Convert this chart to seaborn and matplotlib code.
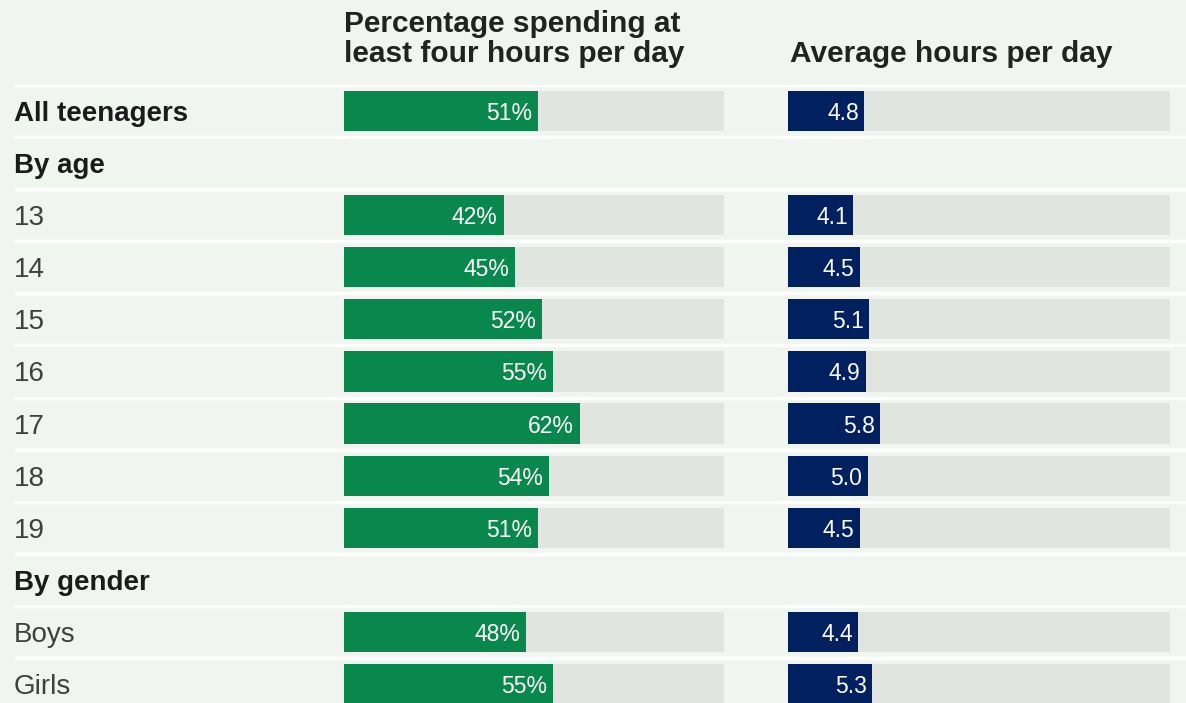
import numpy as np
import pandas as pd
import matplotlib.pyplot as plt
import seaborn as sns

# rows of the table, top to bottom
rows = ["All teenagers", "By age", "13", "14", "15", "16", "17", "18", "19",
        "By gender", "Boys", "Girls"]
bold_rows = ["All teenagers", "By age", "By gender"]

# share spending at least four hours per day (%) and average hours per day
pct_values = [51, np.nan, 42, 45, 52, 55, 62, 54, 51, np.nan, 48, 55]
hour_values = [4.8, np.nan, 4.1, 4.5, 5.1, 4.9, 5.8, 5.0, 4.5, np.nan, 4.4, 5.3]

pct_max = 100
hour_max = 24

header_pct = ["Percentage spending at", "least four hours per day"]
header_hours = "Average hours per day"

bg = "#f0f6ef"
track = "#e0e6df"
green = "#08884c"
navy = "#00205f"

plt.rcParams["font.family"] = ["Liberation Sans", "DejaVu Sans"]

df = pd.DataFrame({"row": rows, "pct": pct_values, "hours": hour_values})
df["pct_track"] = np.where(df["pct"].notna(), pct_max, np.nan)
df["hours_track"] = np.where(df["hours"].notna(), hour_max, np.nan)

W, H = 1186, 703
fig = plt.figure(figsize=(W / 100, H / 100), dpi=100, facecolor=bg)

# rows area in pixels (top of first separator down past the bottom edge)
top_px, bot_px = 85, 710
ax_bottom = 1 - bot_px / H
ax_height = (bot_px - top_px) / H
n = len(rows)

# background: separators and row labels
ax0 = fig.add_axes([0, ax_bottom, 1, ax_height])
ax0.set_xlim(0, W)
ax0.set_ylim(n - 0.5, -0.5)
ax0.axis("off")
for i in range(n):
    ax0.hlines(i - 0.5, 14, W, color="white", lw=2.4, zorder=1)
    bold = rows[i] in bold_rows
    ax0.text(14, i, rows[i], va="center_baseline", ha="left", fontsize=20,
             fontweight="bold" if bold else "normal",
             color="#1b1b1b" if bold else "#404040")


def draw_bars(rect, col, track_col, colour, xmax, fmt, offset):
    ax = fig.add_axes(rect)
    ax.patch.set_alpha(0)
    sns.barplot(data=df, x=track_col, y="row", order=rows, color=track,
                saturation=1, width=0.77, errorbar=None, ax=ax)
    sns.barplot(data=df, x=col, y="row", order=rows, color=colour,
                saturation=1, width=0.77, errorbar=None, ax=ax)
    ax.set_xlim(0, xmax)
    ax.set_ylim(n - 0.5, -0.5)
    ax.axis("off")
    for i, v in enumerate(df[col]):
        if np.isnan(v):
            continue
        ax.annotate(fmt.format(v), (v, i), xytext=(offset, 0),
                    textcoords="offset points", ha="right",
                    va="center_baseline", color="white", fontsize=16.5)
    return ax


draw_bars([344 / W, ax_bottom, 380 / W, ax_height], "pct", "pct_track",
          green, pct_max, "{:.0f}%", -4.3)
draw_bars([788 / W, ax_bottom, 382 / W, ax_height], "hours", "hours_track",
          navy, hour_max, "{:.1f}", -3.8)

# column headers
fig.text(344 / W, 1 - 32 / H, header_pct[0], ha="left", va="baseline",
         fontsize=21.5, fontweight="bold", color="#222222")
fig.text(344 / W, 1 - 62 / H, header_pct[1], ha="left", va="baseline",
         fontsize=21.5, fontweight="bold", color="#222222")
fig.text(790 / W, 1 - 62 / H, header_hours, ha="left", va="baseline",
         fontsize=21.5, fontweight="bold", color="#222222")

fig.savefig("out.png", dpi=100, facecolor=bg)
